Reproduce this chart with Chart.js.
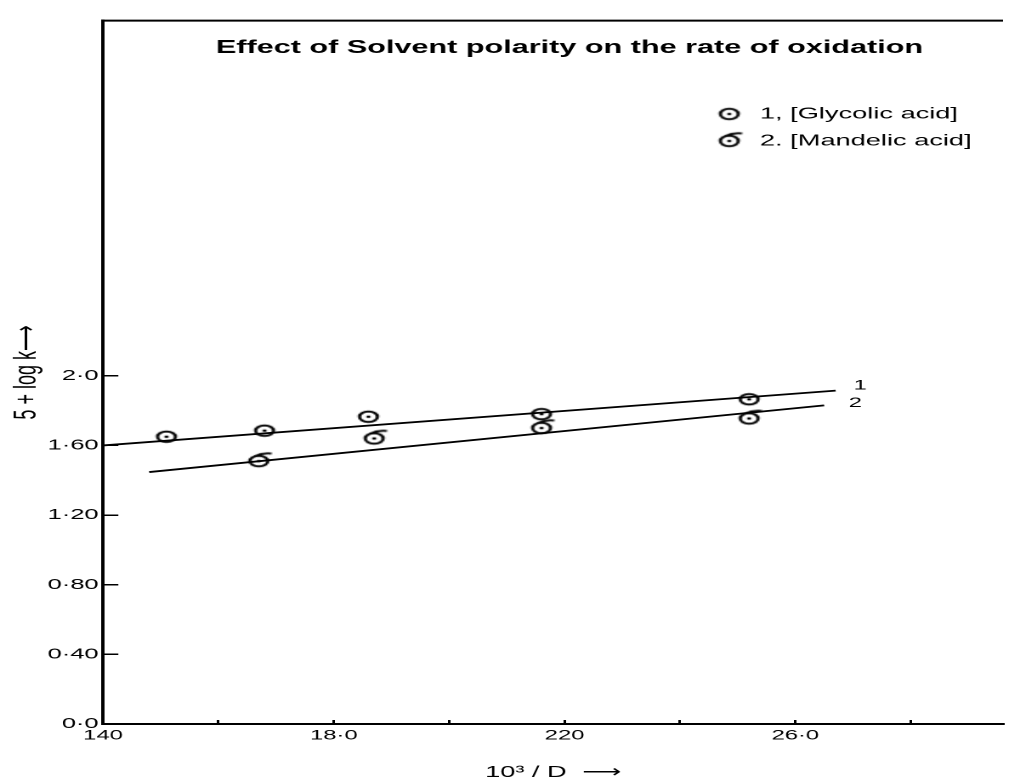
<!DOCTYPE html>
<html>
<head>
<meta charset="utf-8">
<title>Effect of Solvent polarity on the rate of oxidation</title>
<script src="https://cdn.jsdelivr.net/npm/chart.js@4.4.1/dist/chart.umd.min.js"></script>
<style>
    html, body { margin: 0; padding: 0; background: #fff; overflow: hidden; }
    /* the scanned figure is wider than it is drawn, so the chart is widened here */
    #wrap { width: 597px; height: 782px; transform: scaleX(1.7); transform-origin: 0 0; }
</style>
</head>
<body>
<div id="wrap"><canvas id="solventChart" width="597" height="782"></canvas></div>
<script>
/* ================================
   SOLVENT POLARITY PLOT
   ================================ */

const chartTitle = 'Effect of Solvent polarity on the rate of oxidation';
const seriesNames = ['1, [Glycolic acid]', '2. [Mandelic acid]'];
const lineNames = ['1', '2'];
const xTitle = '10³ / D  ⟶';
const yTitle = '5 + log k⟶';

// measured points
const glycolicX = [15.1, 16.8, 18.6, 21.6, 25.2];
const glycolicY = [1.65, 1.685, 1.765, 1.78, 1.865];
const mandelicX = [16.7, 18.7, 21.6, 25.2];
const mandelicY = [1.51, 1.64, 1.70, 1.755];

// straight lines drawn through each set
const line1X = [14.0, 26.7];
const line1Y = [1.60, 1.915];
const line2X = [14.8, 26.5];
const line2Y = [1.447, 1.83];

// axes
const xTicks = [14, 16, 18, 20, 22, 24, 26, 28];
const xTickLabels = ['140', '', '18·0', '', '220', '', '26·0', ''];
const yTicks = [0, 0.4, 0.8, 1.2, 1.6, 2.0];
const yTickLabels = ['0·0', '0·40', '0·80', '1·20', '1·60', '2·0'];

const FONT = '"Liberation Sans", Arial, sans-serif';

function toPoints(xs, ys) {
    return xs.map(function(x, i) { return { x: x, y: ys[i] }; });
}

// Hand drawn style markers: circle with a dot, second one has a tail
function makeMarker(withTail) {
    const c = document.createElement('canvas');
    c.width = 26;
    c.height = 26;
    const g = c.getContext('2d');
    g.strokeStyle = '#000';
    g.fillStyle = '#000';
    g.lineWidth = 1.9;
    g.beginPath();
    g.arc(13, 13, 5.3, 0, Math.PI * 2);
    g.stroke();
    g.beginPath();
    g.arc(13, 13, 1.3, 0, Math.PI * 2);
    g.fill();
    if (withTail) {
        g.beginPath();
        g.moveTo(10.5, 8.2);
        g.quadraticCurveTo(15, 4.5, 20.5, 5.5);
        g.stroke();
    }
    return c;
}

const markers = [makeMarker(false), makeMarker(true)];

// Title, legend, frame top and line numbers
const figureText = {
    id: 'figureText',
    afterDraw: function(chart) {
        const ctx = chart.ctx;
        const area = chart.chartArea;
        const sx = chart.scales.x;
        const sy = chart.scales.y;
        ctx.save();

        ctx.strokeStyle = '#000';
        ctx.lineWidth = 2;
        ctx.beginPath();
        ctx.moveTo(area.left, area.top);
        ctx.lineTo(area.right, area.top);
        ctx.stroke();

        ctx.fillStyle = '#000';
        ctx.textBaseline = 'middle';
        ctx.textAlign = 'center';
        ctx.font = 'bold 18px ' + FONT;
        ctx.fillText(chartTitle, 335, 48);

        ctx.textAlign = 'left';
        ctx.font = '16px ' + FONT;
        seriesNames.forEach(function(name, i) {
            const y = 114 + i * 27;
            ctx.drawImage(markers[i], 429 - 13, y - 13);
            ctx.fillText(name, 447, y);
        });

        ctx.font = '14px ' + FONT;
        const ends = [
            { x: line1X[1], y: line1Y[1], dx: 10.5, dy: -5 },
            { x: line2X[1], y: line2Y[1], dx: 14.5, dy: -2 }
        ];
        ends.forEach(function(e, i) {
            ctx.fillText(lineNames[i], sx.getPixelForValue(e.x) + e.dx, sy.getPixelForValue(e.y) + e.dy);
        });

        ctx.restore();
    }
};

document.addEventListener('DOMContentLoaded', function() {
    initializeChart();
});

function initializeChart() {
    const ctx = document.getElementById('solventChart');
    new Chart(ctx, {
        type: 'scatter',
        data: {
            datasets: [{
                label: seriesNames[0],
                data: toPoints(glycolicX, glycolicY),
                pointStyle: markers[0],
                pointRadius: 6
            }, {
                label: seriesNames[1],
                data: toPoints(mandelicX, mandelicY),
                pointStyle: markers[1],
                pointRadius: 6
            }, {
                label: lineNames[0],
                data: toPoints(line1X, line1Y),
                showLine: true,
                borderColor: '#000',
                borderWidth: 1.8,
                pointRadius: 0
            }, {
                label: lineNames[1],
                data: toPoints(line2X, line2Y),
                showLine: true,
                borderColor: '#000',
                borderWidth: 1.8,
                pointRadius: 0
            }]
        },
        options: {
            responsive: false,
            devicePixelRatio: 2,
            animation: false,
            events: [],
            layout: {
                padding: { top: 15, left: 0, right: 0, bottom: 0 }
            },
            plugins: {
                legend: { display: false },
                tooltip: { enabled: false },
                title: { display: false }
            },
            scales: {
                x: {
                    type: 'linear',
                    min: 14,
                    max: 29.6,
                    afterBuildTicks: function(scale) {
                        scale.ticks = xTicks.map(function(v) { return { value: v }; });
                    },
                    afterFit: function(scale) {
                        scale.height = 58;
                    },
                    ticks: {
                        autoSkip: false,
                        maxRotation: 0,
                        padding: 7,
                        color: '#000',
                        font: { family: FONT, size: 14 },
                        callback: function(value, index) {
                            return xTickLabels[index];
                        }
                    },
                    grid: {
                        drawOnChartArea: false,
                        tickLength: -4,
                        color: '#000',
                        lineWidth: 1.5
                    },
                    border: { color: '#000', width: 2 },
                    title: {
                        display: true,
                        text: xTitle,
                        color: '#000',
                        font: { family: FONT, size: 16 },
                        padding: { top: 0, bottom: 0 }
                    }
                },
                y: {
                    type: 'linear',
                    min: 0,
                    max: 4.04,
                    afterBuildTicks: function(scale) {
                        scale.ticks = yTicks.map(function(v) { return { value: v }; });
                    },
                    afterFit: function(scale) {
                        scale.width = 60.6;
                    },
                    ticks: {
                        padding: 11.6,
                        color: '#000',
                        font: { family: FONT, size: 15 },
                        callback: function(value, index) {
                            return yTickLabels[index];
                        }
                    },
                    grid: {
                        drawOnChartArea: false,
                        tickLength: -9,
                        color: '#000',
                        lineWidth: 1.5
                    },
                    border: { color: '#000', width: 2 },
                    title: {
                        display: true,
                        text: yTitle,
                        color: '#000',
                        font: { family: FONT, size: 18 },
                        padding: { top: 5, bottom: 0 }
                    }
                }
            }
        },
        plugins: [figureText]
    });
}
</script>
</body>
</html>
